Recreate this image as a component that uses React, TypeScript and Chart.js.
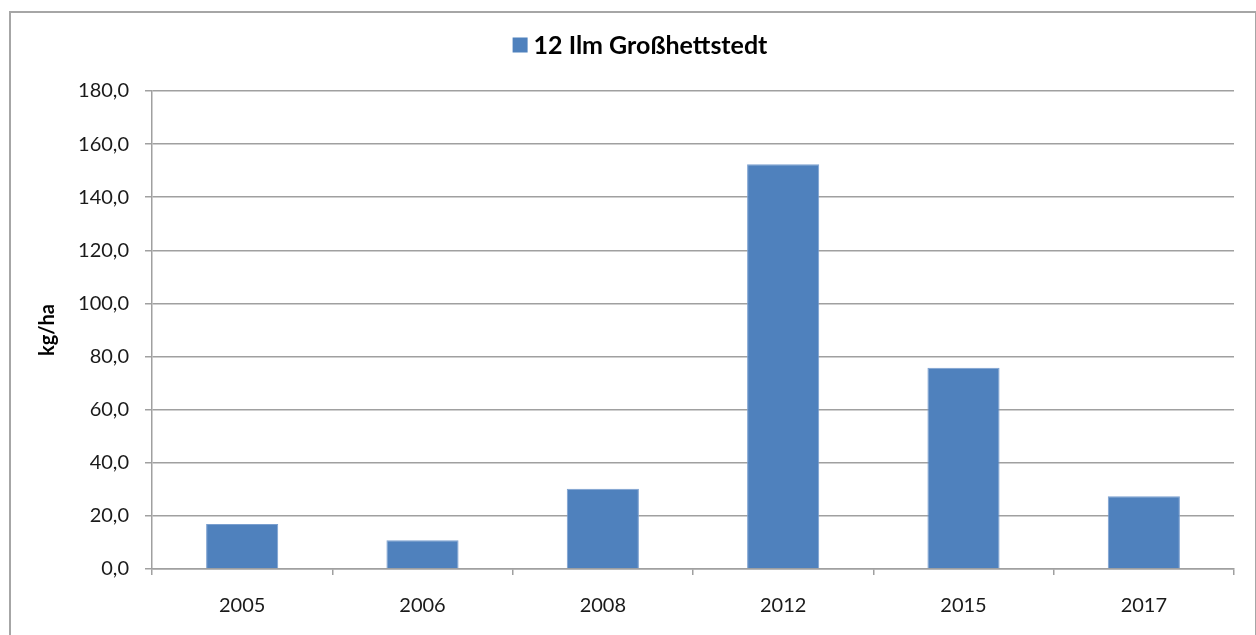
import React, { useEffect, useRef } from "react";
import { Chart, registerables } from "chart.js";

Chart.register(...registerables);

const categories = ["2005", "2006", "2008", "2012", "2015", "2017"];
const seriesLabel = "12 Ilm Großhettstedt";
const seriesValues = [16.9, 10.8, 30.2, 152.4, 75.8, 27.4];
const yAxisTitle = "kg/ha";
const yMin = 0;
const yMax = 180;
const yStep = 20;

const FONT = "Lato, 'Open Sans', sans-serif";
const BAR_COLOR = "#4F81BD";
const GRID_COLOR = "#a0a0a0";

const titleLegendPlugin = {
  id: "titleLegend",
  afterDraw(chart: any) {
    const ctx = chart.ctx;
    const ds = chart.data.datasets[0];
    ctx.save();
    ctx.font = `bold 25px ${FONT}`;
    const tw = ctx.measureText(ds.label).width;
    const box = 15;
    const gap = 6;
    const total = box + gap + tw;
    const cx = 640;
    const x0 = cx - total / 2;
    const cy = 45;
    ctx.fillStyle = ds.backgroundColor;
    ctx.fillRect(x0, cy - box / 2, box, box);
    ctx.fillStyle = "#000";
    ctx.textBaseline = "middle";
    ctx.textAlign = "left";
    ctx.fillText(ds.label, x0 + box + gap, cy + 1);
    ctx.restore();
  },
};

export default function App() {
  const canvasRef = useRef<HTMLCanvasElement | null>(null);

  useEffect(() => {
    if (!canvasRef.current) return;
    const chart = new Chart(canvasRef.current, {
      type: "bar",
      data: {
        labels: categories,
        datasets: [
          {
            label: seriesLabel,
            data: seriesValues,
            backgroundColor: BAR_COLOR,
            borderColor: "#7A9FCF",
            borderWidth: 1,
            categoryPercentage: 1,
            barPercentage: 0.4,
          },
        ],
      },
      options: {
        responsive: false,
        animation: false,
        devicePixelRatio: 1,
        layout: { padding: { left: 36, right: 22, top: 91, bottom: 0 } },
        plugins: {
          legend: { display: false },
          tooltip: { enabled: false },
        },
        scales: {
          x: {
            afterFit(scale: any) {
              scale.height = 66;
            },
            grid: {
              offset: true,
              drawOnChartArea: false,
              drawTicks: true,
              tickLength: 6,
              color: GRID_COLOR,
              lineWidth: 1.5,
            },
            border: { display: true, color: GRID_COLOR, width: 1.5 },
            ticks: {
              color: "#1a1a1a",
              font: { family: FONT, size: 20 },
              padding: 19,
            },
          },
          y: {
            min: yMin,
            max: yMax,
            afterFit(scale: any) {
              scale.width = 116;
            },
            grid: {
              color: GRID_COLOR,
              lineWidth: 1.5,
              tickLength: 7,
            },
            border: { display: true, color: GRID_COLOR, width: 1.5 },
            ticks: {
              stepSize: yStep,
              color: "#1a1a1a",
              font: { family: FONT, size: 20 },
              padding: 16,
              callback: (v: any) => Number(v).toFixed(1).replace(".", ","),
            },
            title: {
              display: true,
              text: yAxisTitle,
              color: "#000",
              font: { family: FONT, size: 20, weight: "bold" },
              padding: 0,
            },
          },
        },
      },
      plugins: [titleLegendPlugin],
    });
    return () => chart.destroy();
  }, []);

  return (
    <div style={{ position: "absolute", left: 0, top: 0, width: 1256, height: 635, overflow: "hidden", background: "#fff" }}>
      <canvas ref={canvasRef} width={1256} height={635} style={{ position: "absolute", left: 0, top: 0 }} />
      <div
        style={{
          position: "absolute",
          left: 9,
          top: 11,
          width: 1244,
          height: 640,
          borderLeft: "2px solid #a6a6a6",
          borderTop: "2px solid #a6a6a6",
          borderRight: "2px solid #a6a6a6",
          pointerEvents: "none",
        }}
      />
    </div>
  );
}
